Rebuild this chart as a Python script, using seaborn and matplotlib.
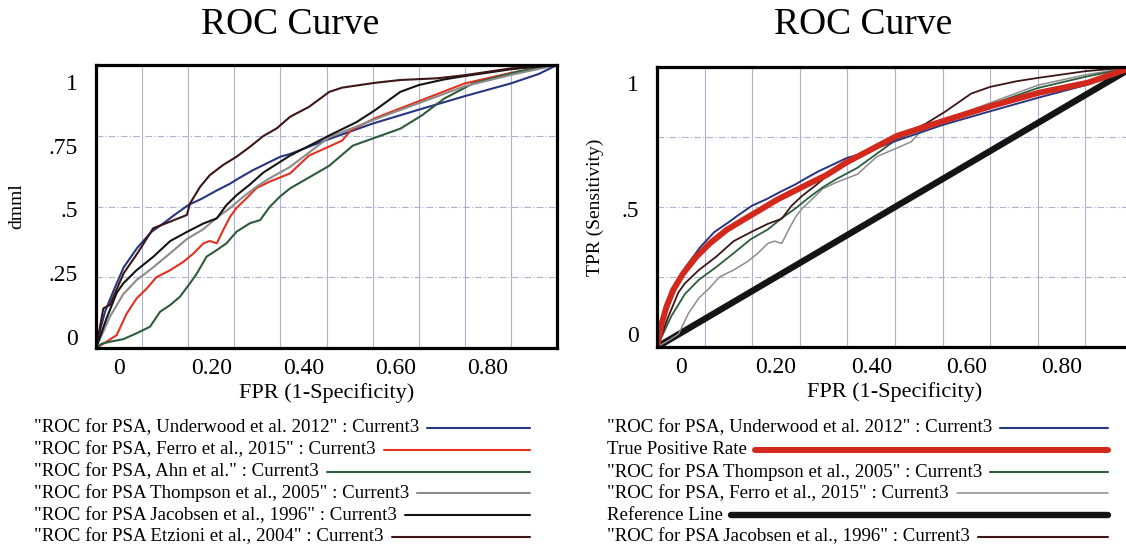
import numpy as np
import matplotlib
matplotlib.use("Agg")
import matplotlib.pyplot as plt
from matplotlib.lines import Line2D
import seaborn as sns

# ---- ROC curve points (FPR, TPR) ----
underwood_fpr = [0, 0.01, 0.02, 0.04, 0.06, 0.09, 0.12, 0.15, 0.17, 0.20, 0.23, 0.26,
                 0.29, 0.31, 0.34, 0.37, 0.40, 0.42, 0.50, 0.60, 0.70, 0.80, 0.90, 0.96, 1.0]
underwood_tpr = [0, 0.07, 0.13, 0.21, 0.285, 0.355, 0.41, 0.445, 0.47, 0.505, 0.528, 0.555,
                 0.58, 0.60, 0.628, 0.652, 0.676, 0.685, 0.735, 0.793, 0.842, 0.89, 0.935, 0.968, 1.0]

ferro_fpr = [0, 0.023, 0.045, 0.066, 0.088, 0.110, 0.131, 0.161, 0.190, 0.212, 0.233, 0.247,
             0.262, 0.276, 0.291, 0.305, 0.327, 0.348, 0.377, 0.421, 0.462, 0.506, 0.534,
             0.553, 0.605, 0.70, 0.80, 0.90, 1.0]
ferro_tpr = [0, 0.022, 0.046, 0.12, 0.175, 0.21, 0.25, 0.275, 0.305, 0.335, 0.37, 0.378,
             0.37, 0.417, 0.464, 0.495, 0.53, 0.565, 0.588, 0.617, 0.68, 0.712, 0.733,
             0.769, 0.812, 0.872, 0.935, 0.972, 1.0]

ahn_fpr = [0, 0.012, 0.03, 0.059, 0.088, 0.117, 0.139, 0.161, 0.182, 0.204, 0.219, 0.240,
           0.262, 0.283, 0.305, 0.334, 0.356, 0.377, 0.399, 0.421, 0.506, 0.557, 0.605,
           0.66, 0.707, 0.755, 0.818, 0.913, 1.0]
ahn_tpr = [0, 0.015, 0.022, 0.031, 0.052, 0.075, 0.128, 0.152, 0.181, 0.229, 0.264, 0.323,
           0.346, 0.370, 0.411, 0.441, 0.452, 0.499, 0.535, 0.564, 0.644, 0.715, 0.743,
           0.775, 0.822, 0.881, 0.935, 0.976, 1.0]

thompson_fpr = [0, 0.03, 0.059, 0.088, 0.124, 0.161, 0.197, 0.233, 0.262, 0.291, 0.320,
                0.348, 0.377, 0.421, 0.506, 0.605, 0.70, 0.80, 0.90, 1.0]
thompson_tpr = [0, 0.11, 0.19, 0.24, 0.285, 0.335, 0.385, 0.42, 0.46, 0.495, 0.535,
                0.57, 0.60, 0.64, 0.745, 0.808, 0.865, 0.925, 0.965, 1.0]

jacobsen_fpr = [0, 0.023, 0.045, 0.059, 0.088, 0.124, 0.161, 0.197, 0.233, 0.262, 0.283,
                0.305, 0.334, 0.363, 0.392, 0.421, 0.506, 0.565, 0.605, 0.66, 0.70, 0.755,
                0.80, 0.90, 1.0]
jacobsen_tpr = [0, 0.105, 0.195, 0.228, 0.275, 0.322, 0.378, 0.41, 0.44, 0.458, 0.505,
                0.54, 0.578, 0.62, 0.65, 0.68, 0.751, 0.798, 0.84, 0.905, 0.929, 0.949,
                0.961, 0.985, 1.0]

etzioni_fpr = [0, 0.016, 0.03, 0.06, 0.09, 0.124, 0.16, 0.197, 0.204, 0.226, 0.247, 0.276,
               0.305, 0.334, 0.363, 0.392, 0.421, 0.462, 0.506, 0.534, 0.605, 0.66, 0.74,
               0.80, 0.90, 1.0]
etzioni_tpr = [0, 0.14, 0.152, 0.264, 0.335, 0.423, 0.446, 0.470, 0.511, 0.570, 0.611, 0.647,
               0.676, 0.711, 0.749, 0.776, 0.817, 0.852, 0.905, 0.92, 0.937, 0.947, 0.953,
               0.964, 0.988, 1.0]

tpr_fpr = [0, 0.010, 0.020, 0.034, 0.055, 0.083, 0.111, 0.146, 0.181, 0.216, 0.251, 0.286,
           0.321, 0.356, 0.399, 0.504, 0.601, 0.703, 0.802, 0.905, 1.0]
tpr_tpr = [0, 0.085, 0.144, 0.204, 0.263, 0.323, 0.370, 0.418, 0.454, 0.489, 0.525, 0.555,
           0.585, 0.614, 0.660, 0.754, 0.807, 0.861, 0.908, 0.944, 1.0]

reference_fpr = [0, 1.0]
reference_tpr = [0, 1.0]

# ---- axis tick labels ----
x_tick_labels = ["0", "0.20", "0.40", "0.60", "0.80"]
y_tick_labels_left = ["0", ".25", ".5", ".75", "1"]
y_tick_labels_right = ["0", ".5", "1"]

# ---- series labels ----
left_labels = [
    '"ROC for PSA, Underwood et al. 2012" : Current3',
    '"ROC for PSA, Ferro et al., 2015" : Current3',
    '"ROC for PSA, Ahn et al." : Current3',
    '"ROC for PSA Thompson et al., 2005" : Current3',
    '"ROC for PSA Jacobsen et al., 1996" : Current3',
    '"ROC for PSA Etzioni et al., 2004" : Current3',
]
right_labels = [
    '"ROC for PSA, Underwood et al. 2012" : Current3',
    'True Positive Rate',
    '"ROC for PSA Thompson et al., 2005" : Current3',
    '"ROC for PSA, Ferro et al., 2015" : Current3',
    'Reference Line',
    '"ROC for PSA Jacobsen et al., 1996" : Current3',
]

BLUE = "#28357f"
RED = "#e2321f"
TPR_RED = "#d3281c"
GREEN = "#2d5c3c"
GRAY = "#8c8c8c"
BLACK = "#141414"
MAROON = "#3c1616"

sns.set_theme(style="white")
plt.rcParams["font.family"] = ["Liberation Serif", "DejaVu Serif"]
plt.rcParams["text.color"] = "black"
plt.rcParams["axes.labelcolor"] = "black"
plt.rcParams["axes.titlecolor"] = "black"
plt.rcParams["xtick.color"] = "black"
plt.rcParams["ytick.color"] = "black"
plt.rcParams["xtick.labelcolor"] = "black"
plt.rcParams["ytick.labelcolor"] = "black"

W, H = 1126, 552
fig = plt.figure(figsize=(W / 100, H / 100), dpi=100)
fig.patch.set_facecolor("white")

ax_l = fig.add_axes([96 / W, 1 - 348 / H, 461 / W, 283 / H])
ax_r = fig.add_axes([657 / W, 1 - 347 / H, 476 / W, 280 / H])

THIN = 1.5
left_series = [
    (underwood_fpr, underwood_tpr, BLUE, THIN),
    (ferro_fpr, ferro_tpr, RED, THIN),
    (ahn_fpr, ahn_tpr, GREEN, THIN),
    (thompson_fpr, thompson_tpr, GRAY, THIN),
    (jacobsen_fpr, jacobsen_tpr, BLACK, THIN),
    (etzioni_fpr, etzioni_tpr, MAROON, THIN),
]
right_series = [
    (reference_fpr, reference_tpr, BLACK, 4.6),
    (ferro_fpr, ferro_tpr, GRAY, 1.1),
    (thompson_fpr, thompson_tpr, GREEN, 1.3),
    (jacobsen_fpr, jacobsen_tpr, MAROON, 1.3),
    (underwood_fpr, underwood_tpr, BLUE, 1.4),
    (tpr_fpr, tpr_tpr, TPR_RED, 4.3),
]

for ax, series in ((ax_l, left_series), (ax_r, right_series)):
    for fx, ty, col, lw in series:
        sns.lineplot(x=fx, y=ty, ax=ax, color=col, linewidth=lw, sort=False,
                     estimator=None, legend=False)

for ax, ylabels, ypos in ((ax_l, y_tick_labels_left, np.linspace(0.04, 0.94, 5)),
                          (ax_r, y_tick_labels_right, np.linspace(0.045, 0.943, 3))):
    ax.set_xlim(0, 1)
    ax.set_ylim(0, 1)
    ax.set_xticks(np.linspace(0.05, 0.85, 5))
    ax.set_xticklabels(x_tick_labels)
    ax.set_yticks(ypos)
    ax.set_yticklabels(ylabels)
    ax.set_xticks(np.arange(0.1, 0.95, 0.1), minor=True)
    ax.set_yticks([0.25, 0.5, 0.75], minor=True)
    ax.grid(False)
    ax.xaxis.grid(True, which="minor", color="#aeb2cc", linewidth=0.8, linestyle="-")
    ax.yaxis.grid(True, which="minor", color="#aeb2cc", linewidth=0.8, linestyle=(0, (6, 2, 1, 2)))
    ax.set_axisbelow(True)
    ax.tick_params(axis="both", which="both", length=0)
    ax.tick_params(axis="x", which="major", pad=7, labelsize=17)
    ax.tick_params(axis="y", which="major", pad=13, labelsize=17)
    for sp in ax.spines.values():
        sp.set_visible(True)
        sp.set_color("black")
        sp.set_linewidth(2.3)
    ax.set_facecolor("white")
    ax.set_xlabel("FPR (1-Specificity)", fontsize=16)
    ax.xaxis.set_label_coords(0.5, -0.125)

ax_l.set_ylabel("dmml", fontsize=14)
ax_l.yaxis.label.set_va("center")
ax_l.yaxis.set_label_coords(-0.171, 0.5)
ax_r.set_ylabel("TPR (Sensitivity)", fontsize=14)
ax_r.yaxis.label.set_va("center")
ax_r.yaxis.set_label_coords(-0.130, 0.5)

ax_l.set_title("ROC Curve", fontsize=27, x=(290 - 96) / 461, y=(348 - 25) / 283,
               va="center", pad=0, color="black")
ax_r.set_title("ROC Curve", fontsize=27, x=(863 - 657) / 476, y=(347 - 25) / 280,
               va="center", pad=0, color="black")

# ---- legends: label text followed by a line key ending at a fixed column ----
def draw_legend(labels, colors, widths, x_text, x_end, y_first, step):
    fig.canvas.draw()
    renderer = fig.canvas.get_renderer()
    for i, (lab, col, lw) in enumerate(zip(labels, colors, widths)):
        y_px = y_first + i * step
        t = fig.text(x_text / W, 1 - y_px / H, lab, ha="left", va="center",
                     fontsize=13.6, color="black")
        bb = t.get_window_extent(renderer=renderer)
        x0 = bb.x1 + 8
        fig.add_artist(Line2D([x0 / W, x_end / W], [1 - y_px / H, 1 - y_px / H],
                              transform=fig.transFigure, color=col, linewidth=lw))

draw_legend(left_labels, [BLUE, RED, GREEN, GRAY, BLACK, MAROON],
            [THIN] * 6, 34, 530, 428, 21.8)
draw_legend(right_labels, [BLUE, TPR_RED, GREEN, GRAY, BLACK, MAROON],
            [THIN, 4.3, THIN, 1.1, 4.6, THIN], 607, 1108, 428, 21.8)

fig.savefig("out.png", dpi=100)
